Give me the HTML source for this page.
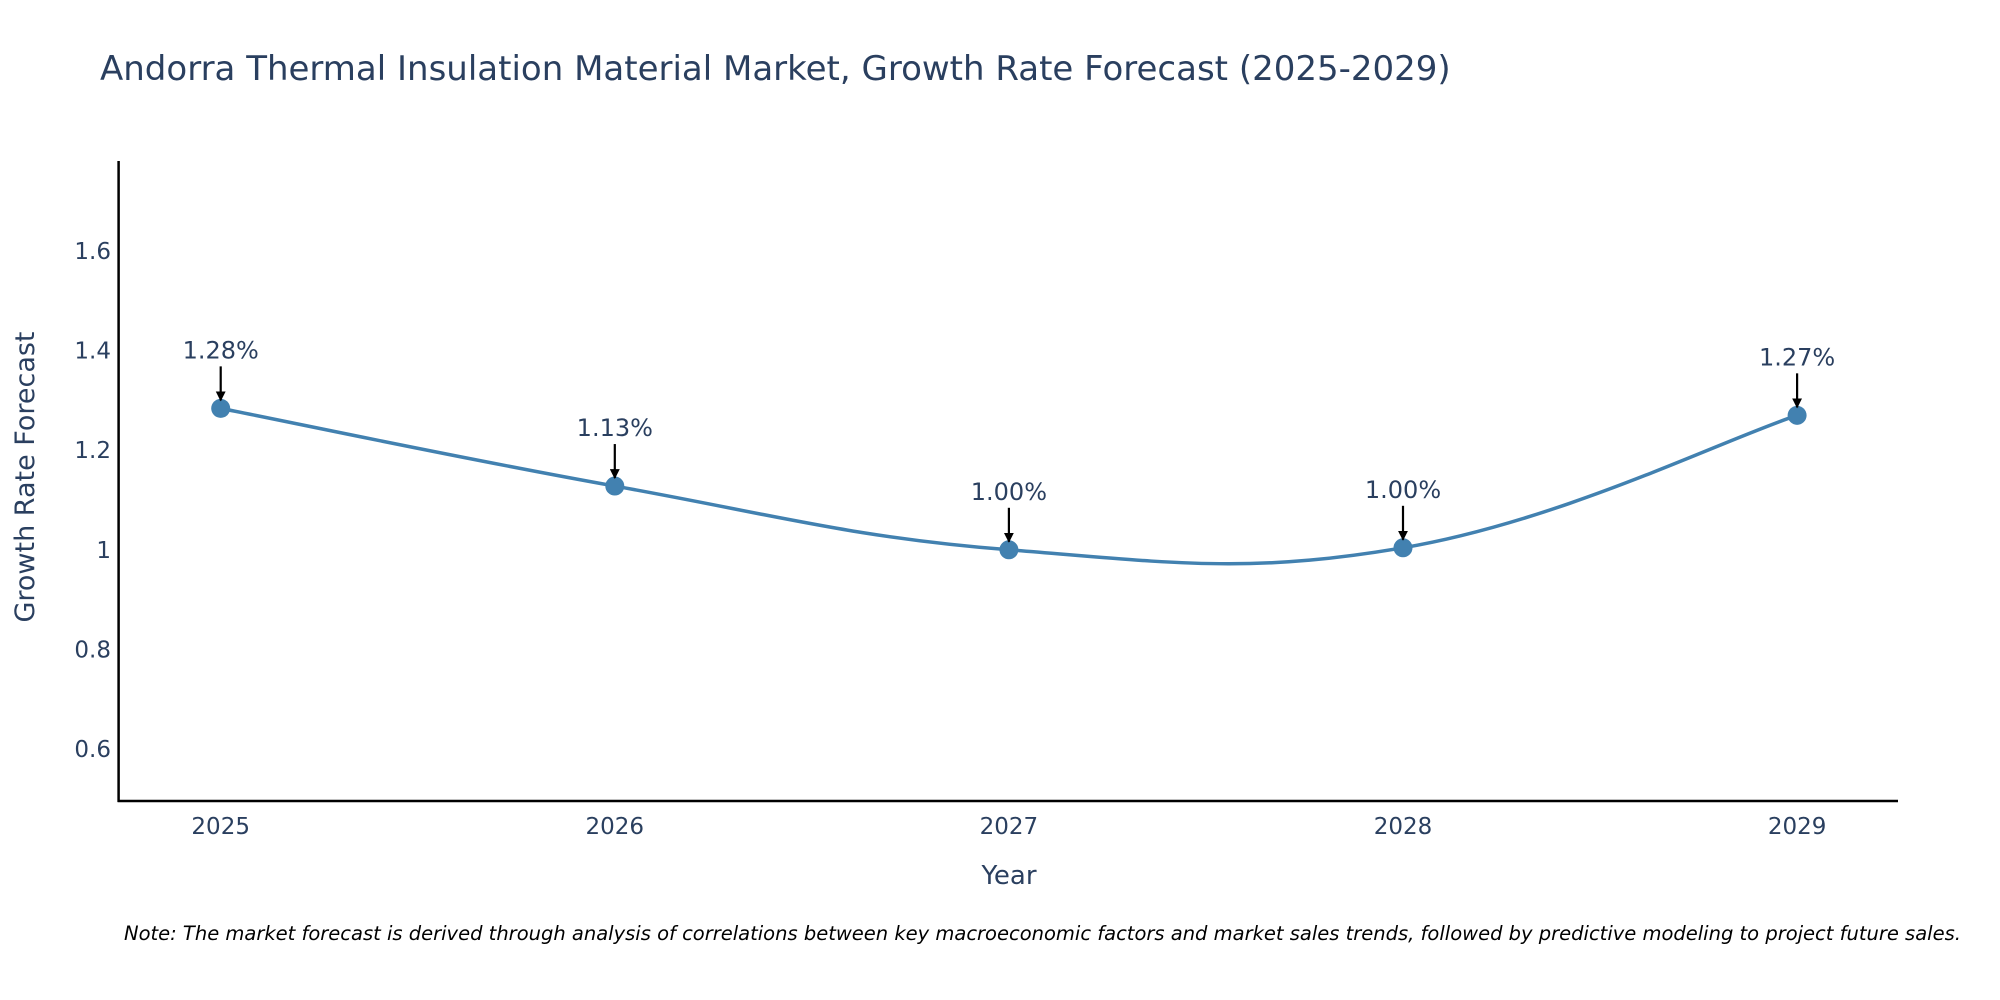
<!DOCTYPE html>
<html><head><meta charset="utf-8"><style>
html,body{margin:0;padding:0;background:#fff;overflow:hidden;}
svg{display:block;font-family:"DejaVu Sans","Liberation Sans",sans-serif;}
</style></head><body>
<svg id="chart" width="2000" height="1000" viewBox="0 0 2000 1000" xmlns="http://www.w3.org/2000/svg">
<defs><marker id="ah" viewBox="0 0 10 10" refX="9" refY="5" markerWidth="4.5" markerHeight="4.5" orient="auto"><path d="M0,0 L10,5 L0,10 z" fill="#000"/></marker></defs>
<text x="100" y="80" font-size="34" fill="#2a3f5f">Andorra Thermal Insulation Material Market, Growth Rate Forecast (2025-2029)</text>
<g id="axes"></g>
<g id="plot"></g>
<text transform="translate(34,477) rotate(-90)" text-anchor="middle" font-size="27" fill="#2a3f5f">Growth Rate Forecast</text>
<text x="1009" y="884" text-anchor="middle" font-size="26" fill="#2a3f5f">Year</text>
<text x="124" y="940" font-size="19.5" font-style="italic" fill="#000">Note: The market forecast is derived through analysis of correlations between key macroeconomic factors and market sales trends, followed by predictive modeling to project future sales.</text>
</svg>
<script>
const years = [2025, 2026, 2027, 2028, 2029];
const values = [1.284, 1.128, 1.0, 1.004, 1.27];
const valueLabels = ["1.28%", "1.13%", "1.00%", "1.00%", "1.27%"];
const yTicks = [0.6, 0.8, 1, 1.2, 1.4, 1.6];
const yTickLabels = ["0.6", "0.8", "1", "1.2", "1.4", "1.6"];

const NS = "http://www.w3.org/2000/svg";
const L = 118.6, R = 1898, T = 161, B = 801;
const xs = y => 220.7 + (y - 2025) * 394.1;
const ys = v => 749 - (v - 0.6) * 498;
function el(tag, attrs, parent) { const e = document.createElementNS(NS, tag); for (const k in attrs) e.setAttribute(k, attrs[k]); parent.appendChild(e); return e; }
const axes = document.getElementById('axes'), plot = document.getElementById('plot');

const yAxis = el('line', {x1: L, y1: T, x2: L, y2: B + 1, stroke: '#000', 'stroke-width': 2.5}, axes);


const xAxis = el('line', {x1: L - 1, y1: B, x2: R, y2: B, stroke: '#000', 'stroke-width': 2.5}, axes);



yTicks.forEach((v, i) => {
  const t = el('text', {x: 111, y: ys(v) + 8, 'text-anchor': 'end', 'font-size': 23, fill: '#2a3f5f'}, axes);
  t.textContent = yTickLabels[i];
  
  
});
years.forEach(y => {
  const t = el('text', {x: xs(y), y: B + 33, 'text-anchor': 'middle', 'font-size': 23, fill: '#2a3f5f'}, axes);
  t.textContent = String(y);
  
  
});

const pts = years.map((y, i) => [xs(y), ys(values[i])]);
let d = `M${pts[0][0]},${pts[0][1]}`;
const s = 0.2;
for (let i = 0; i < pts.length - 1; i++) {
  const p0 = pts[Math.max(0, i - 1)], p1 = pts[i], p2 = pts[i + 1], p3 = pts[Math.min(pts.length - 1, i + 2)];
  const c1 = [p1[0] + (p2[0] - p0[0]) * s, p1[1] + (p2[1] - p0[1]) * s];
  const c2 = [p2[0] - (p3[0] - p1[0]) * s, p2[1] - (p3[1] - p1[1]) * s];
  d += ` C${c1[0]},${c1[1]} ${c2[0]},${c2[1]} ${p2[0]},${p2[1]}`;
}
const line = el('path', {d: d, fill: 'none', stroke: '#4281b0', 'stroke-width': 3.5}, plot);



pts.forEach((p, i) => {
  const c = el('circle', {cx: p[0], cy: p[1], r: 9.5, fill: '#4281b0'}, plot);
  
  
  const a = el('line', {x1: p[0], y1: p[1] - 42, x2: p[0], y2: p[1] - 8, stroke: '#000', 'stroke-width': 2.2, 'marker-end': 'url(#ah)'}, plot);
  
  
  const t = el('text', {x: p[0], y: p[1] - 50, 'text-anchor': 'middle', 'font-size': 24, fill: '#2a3f5f'}, plot);
  t.textContent = valueLabels[i];
  
  
});
</script>
</body></html>
